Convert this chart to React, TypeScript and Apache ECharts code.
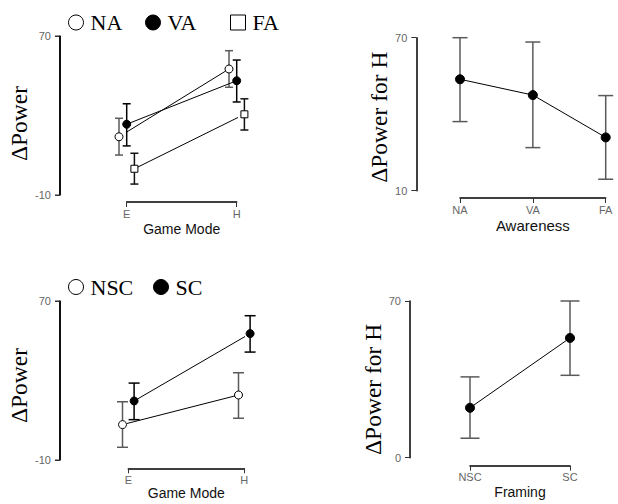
import React, { useEffect, useRef } from "react";
import * as echarts from "echarts";

// ---- data ----
const modes = ["E", "H"];
const awareLevels = ["NA", "VA", "FA"];
const awareDodge = [-0.07, 0, 0.07];
const naMean = [19.3, 53.4];
const naLo = [10.1, 44.2];
const naHi = [28.6, 62.6];
const vaMean = [25.6, 47.5];
const vaLo = [14.7, 36.8];
const vaHi = [35.9, 57.9];
const faMean = [3.2, 30.6];
const faLo = [-4.5, 22.7];
const faHi = [11.0, 38.4];

const awareHMean = [53.7, 47.5, 30.9];
const awareHLo = [37.1, 26.9, 14.5];
const awareHHi = [70, 68.3, 47.3];

const framingLevels = ["NSC", "SC"];
const framingDodge = [-0.05, 0.05];
const nscMean = [7.8, 22.7];
const nscLo = [-3.6, 11.0];
const nscHi = [19.3, 33.9];
const scMean = [19.7, 53.6];
const scLo = [10.3, 44.3];
const scHi = [28.7, 62.6];

const framingHMean = [22.3, 53.5];
const framingHLo = [8.7, 36.8];
const framingHHi = [36.1, 70];

const panel1YTicks = [-10, 70];
const panel2YTicks = [10, 70];
const panel3YTicks = [-10, 70];
const panel4YTicks = [0, 70];

// ---- layout / styles ----
const SERIF = "Liberation Serif";
const SANS = "Liberation Sans";
const GREY = "#5a5a5a";
const TICK_GREY = "#666";

const GRID1 = { left: 126.7, top: 36, width: 110, height: 159 };
const GRID2 = { left: 460, top: 37.7, width: 145.7, height: 153 };
const GRID3 = { left: 128.3, top: 301, width: 116, height: 159 };
const GRID4 = { left: 470, top: 301, width: 100, height: 156.7 };
const Y_OFFSET_1 = 66.7;
const Y_OFFSET_3 = 68.3;

function errorBars(cap: number, color: string) {
  return (params: any, api: any) => {
    const x = api.value(0);
    const lo = api.coord([x, api.value(1)]);
    const hi = api.coord([x, api.value(2)]);
    const hw = cap / 2;
    const style = { stroke: color, lineWidth: 1.5 };
    return {
      type: "group",
      children: [
        { type: "line", shape: { x1: lo[0], y1: lo[1], x2: hi[0], y2: hi[1] }, style },
        { type: "line", shape: { x1: lo[0] - hw, y1: lo[1], x2: lo[0] + hw, y2: lo[1] }, style },
        { type: "line", shape: { x1: hi[0] - hw, y1: hi[1], x2: hi[0] + hw, y2: hi[1] }, style },
      ],
    };
  };
}

function yAxisCfg(grid: number, ticks: number[], offset: number, name: string, nameGap: number, shift: number) {
  return {
    type: "value",
    gridIndex: grid,
    position: "left",
    min: ticks[0],
    max: ticks[ticks.length - 1],
    offset,
    name,
    nameLocation: "middle",
    nameGap,
    nameTextStyle: { fontFamily: SERIF, fontSize: 23.5, color: "#000", padding: [0, shift, 0, 0] },
    axisLine: { show: true, onZero: false, lineStyle: { color: "#000", width: 1.5 } },
    axisTick: { show: true, length: 5, customValues: ticks, lineStyle: { color: "#333" } },
    axisLabel: { show: true, customValues: ticks, margin: 9, fontFamily: SANS, fontSize: 11, color: TICK_GREY },
    splitLine: { show: false },
  };
}

function xAxisModeCfg(grid: number, labels: string[], offset: number, name: string, nameGap: number) {
  const idx = labels.map((_, i) => i);
  return {
    type: "value",
    gridIndex: grid,
    min: 0,
    max: labels.length - 1,
    offset,
    name,
    nameLocation: "middle",
    nameGap,
    nameTextStyle: { fontFamily: SANS, fontSize: 14, color: "#111" },
    axisLine: { show: true, onZero: false, lineStyle: { color: "#000", width: 1.5 } },
    axisTick: { show: true, length: 5, customValues: idx, lineStyle: { color: "#333" } },
    axisLabel: {
      show: true,
      customValues: idx,
      margin: 6,
      fontFamily: SANS,
      fontSize: 11,
      color: TICK_GREY,
      formatter: (v: number) => labels[Math.round(v)],
    },
    splitLine: { show: false },
  };
}

function xAxisCatCfg(grid: number, labels: string[], offset: number, name: string, nameGap: number, fontSize: number) {
  return {
    type: "category",
    gridIndex: grid,
    data: labels,
    boundaryGap: false,
    offset,
    name,
    nameLocation: "middle",
    nameGap,
    nameTextStyle: { fontFamily: SANS, fontSize, color: "#111" },
    axisLine: { show: true, onZero: false, lineStyle: { color: "#000", width: 1.5 } },
    axisTick: { show: true, length: 5, interval: 0, lineStyle: { color: "#333" } },
    axisLabel: { show: true, margin: 6, fontFamily: SANS, fontSize: 11, color: TICK_GREY, interval: 0 },
    splitLine: { show: false },
  };
}

function groupLine(
  name: string,
  xi: number,
  yi: number,
  means: number[],
  dodge: number,
  symbol: string,
  fill: string,
  size: number
) {
  return {
    type: "line",
    name,
    xAxisIndex: xi,
    yAxisIndex: yi,
    data: means.map((m, i) => [i + dodge, m]),
    symbol,
    symbolSize: size,
    showSymbol: true,
    clip: false,
    z: 3,
    lineStyle: { color: "#000", width: 1 },
    itemStyle: { color: fill, borderColor: "#000", borderWidth: 1 },
    emphasis: { disabled: true },
  };
}

function groupBars(xi: number, yi: number, lo: number[], hi: number[], dodge: number, cap: number, color: string) {
  return {
    type: "custom",
    xAxisIndex: xi,
    yAxisIndex: yi,
    clip: false,
    z: 2,
    encode: { x: 0, y: [1, 2] },
    data: lo.map((l, i) => [i + dodge, l, hi[i]]),
    renderItem: errorBars(cap, color),
    silent: true,
  };
}

function legendItem(name: string, left: number, top: number, icon: string, fill: string) {
  return {
    show: true,
    left,
    top,
    padding: 0,
    itemWidth: 15,
    itemHeight: 15,
    selectedMode: false,
    data: [
      {
        name,
        icon,
        itemStyle: { color: fill, borderColor: "#000", borderWidth: 1 },
      },
    ],
    textStyle: { fontFamily: SERIF, fontSize: 22, color: "#000", padding: [0, 0, 0, 2] },
  };
}

// axis spine (filled rects) at the offset y-axis position of a panel
function spine(grid: { left: number; top: number; height: number }, offset: number) {
  const x = grid.left - offset;
  return [
    { type: "rect", z: 50, silent: true, shape: { x: x - 0.75, y: grid.top, width: 1.5, height: grid.height }, style: { fill: "#000" } },
    { type: "rect", z: 50, silent: true, shape: { x: x - 5, y: grid.top - 0.5, width: 5, height: 1 }, style: { fill: "#333" } },
    { type: "rect", z: 50, silent: true, shape: { x: x - 5, y: grid.top + grid.height - 0.5, width: 5, height: 1 }, style: { fill: "#333" } },
  ];
}

export default function App() {
  const ref = useRef<HTMLDivElement>(null);

  useEffect(() => {
    if (!ref.current) return;
    const chart = echarts.init(ref.current, null, { renderer: "svg" });

    const option: any = {
      animation: false,
      backgroundColor: "#fff",
      grid: [
        { ...GRID1, outerBoundsMode: "none" },
        { ...GRID2, outerBoundsMode: "none" },
        { ...GRID3, outerBoundsMode: "none" },
        { ...GRID4, outerBoundsMode: "none" },
      ],
      legend: [
        legendItem("NA", 68, 11.5, "circle", "#fff"),
        legendItem("VA", 145, 11.5, "circle", "#000"),
        legendItem("FA", 230, 11.5, "rect", "#fff"),
        legendItem("NSC", 68, 276, "circle", "#fff"),
        legendItem("SC", 153, 276, "circle", "#000"),
      ],
      xAxis: [
        xAxisModeCfg(0, modes, 7, "Game Mode", 20),
        xAxisCatCfg(1, awareLevels, 7.3, "Awareness", 20, 15),
        xAxisModeCfg(2, modes, 8.3, "Game Mode", 17),
        xAxisCatCfg(3, framingLevels, 8, "Framing", 19, 14),
      ],
      yAxis: [
        yAxisCfg(0, panel1YTicks, Y_OFFSET_1, "ΔPower", 13, 16),
        yAxisCfg(1, panel2YTicks, 43.7, "ΔPower for H", 20, 6),
        yAxisCfg(2, panel3YTicks, Y_OFFSET_3, "ΔPower", 13, 10),
        yAxisCfg(3, panel4YTicks, 60, "ΔPower for H", 12, 20),
      ],
      graphic: [...spine(GRID1, Y_OFFSET_1), ...spine(GRID3, Y_OFFSET_3)],
      series: [
        // panel 1
        groupBars(0, 0, naLo, naHi, awareDodge[0], 8, GREY),
        groupBars(0, 0, vaLo, vaHi, awareDodge[1], 8, "#000"),
        groupBars(0, 0, faLo, faHi, awareDodge[2], 8, "#111"),
        groupLine("NA", 0, 0, naMean, awareDodge[0], "circle", "#fff", 8),
        groupLine("VA", 0, 0, vaMean, awareDodge[1], "circle", "#000", 8),
        groupLine("FA", 0, 0, faMean, awareDodge[2], "rect", "#fff", 7),
        // panel 2
        groupBars(1, 1, awareHLo, awareHHi, 0, 15, GREY),
        groupLine("awareH", 1, 1, awareHMean, 0, "circle", "#000", 9),
        // panel 3
        groupBars(2, 2, nscLo, nscHi, framingDodge[0], 11, GREY),
        groupBars(2, 2, scLo, scHi, framingDodge[1], 11, "#000"),
        groupLine("NSC", 2, 2, nscMean, framingDodge[0], "circle", "#fff", 8),
        groupLine("SC", 2, 2, scMean, framingDodge[1], "circle", "#000", 8),
        // panel 4
        groupBars(3, 3, framingHLo, framingHHi, 0, 19, GREY),
        groupLine("framingH", 3, 3, framingHMean, 0, "circle", "#000", 9),
      ],
    };

    chart.setOption(option);
    return () => chart.dispose();
  }, []);

  return (
    <div
      ref={ref}
      style={{ position: "fixed", left: 0, top: 0, width: 618, height: 504, background: "#fff" }}
    />
  );
}
